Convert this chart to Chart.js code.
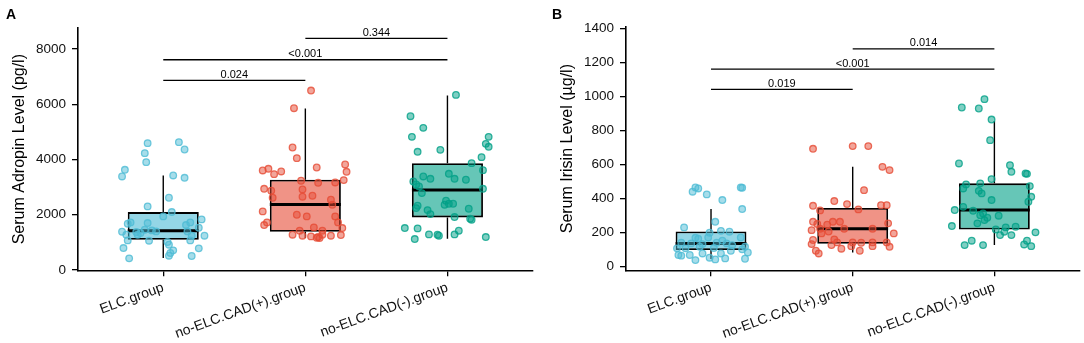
<!DOCTYPE html>
<html><head><meta charset="utf-8">
<script src="https://cdn.jsdelivr.net/npm/chart.js@4.4.1/dist/chart.umd.min.js"></script>
<style>
html,body{margin:0;padding:0;background:#fff;}
#wrap{position:relative;width:1084px;height:343px;overflow:hidden;background:#fff;}
.panel{position:absolute;top:0;height:343px;}
#pa{left:0;width:540px;}
#pb{left:540px;width:544px;}
.tag{position:absolute;font:bold 14px "Liberation Sans",Arial,sans-serif;line-height:14px;color:#000;}
</style></head><body>
<div id="wrap">
  <div class="panel" id="pa"><canvas id="ca"></canvas></div>
  <div class="panel" id="pb"><canvas id="cb"></canvas></div>
  <div class="tag" style="left:6px;top:7px">A</div>
  <div class="tag" style="left:552px;top:7px">B</div>
</div>
<script>
// ---------------- data ----------------
const groups = ['ELC.group', 'no-ELC.CAD(+).group', 'no-ELC.CAD(-).group'];
const adropinTicks = [0, 2000, 4000, 6000, 8000];
const irisinTicks = [0, 200, 400, 600, 800, 1000, 1200, 1400];

// box stats: [lower whisker, Q1, median, Q3, upper whisker]
const adropinBoxes = [[430, 1096, 1422, 2096, 3422], [1160, 1386, 2374, 3266, 5844], [1133, 1904, 2892, 3868, 6314]];
const irisinBoxes = [[45, 98, 137, 207, 339], [84, 135, 223, 345, 587], [127, 219, 333, 490, 856]];

// jittered observations: [horizontal jitter (category units), value]
const adropinELC = [[-0.11,4591],[0.11,4627],[0.15,4362],[-0.13,4230],[-0.12,3904],[-0.27,3627],[-0.29,3386],[0.07,3422],[0.15,3338],[0.04,2615],[-0.11,2302],[0.06,2097],[0.00,1940],[0.27,1832],[-0.23,1723],[-0.11,1699],[0.19,1723],[0.16,1627],[-0.25,1675],[0.25,1530],[-0.13,1458],[-0.08,1434],[-0.29,1386],[-0.26,1277],[-0.18,1277],[-0.19,1373],[0.17,1398],[0.29,1241],[0.20,1241],[-0.25,1072],[-0.10,1060],[0.03,1012],[0.19,1072],[0.04,916],[-0.28,795],[0.25,783],[0.07,711],[0.05,615],[0.04,518],[0.20,506],[-0.24,422],[-0.05,1398],[-0.16,1338]];
const adropinCADpos = [[0.04,6495],[-0.08,5856],[-0.09,4434],[-0.06,4049],[-0.30,3603],[-0.26,3663],[-0.22,3470],[-0.17,3567],[0.08,3711],[0.28,3820],[0.29,3555],[0.27,3254],[-0.03,3230],[0.09,3157],[0.21,3169],[-0.29,2940],[-0.24,2868],[-0.02,2916],[-0.23,2615],[-0.02,2651],[0.05,2687],[0.18,2543],[0.19,2362],[-0.30,2121],[-0.06,2000],[0.01,1940],[0.21,1940],[0.23,1723],[-0.29,1627],[-0.27,1723],[0.06,1542],[0.26,1518],[-0.04,1422],[0.12,1422],[-0.09,1277],[-0.02,1241],[0.04,1217],[0.09,1193],[0.12,1277],[0.18,1241],[0.25,1265],[0.10,1157],[0.08,1169]];
const adropinCADneg = [[0.06,6338],[-0.26,5567],[-0.17,5145],[-0.25,4820],[0.29,4820],[0.27,4567],[0.29,4459],[-0.21,4278],[-0.05,4350],[0.24,4085],[0.17,3868],[0.25,3615],[-0.17,3386],[-0.12,3302],[0.01,3482],[0.05,3302],[0.13,3266],[-0.24,3205],[-0.22,3097],[-0.20,3025],[-0.18,2784],[0.25,2940],[-0.21,2326],[-0.22,2241],[-0.14,2169],[-0.12,2024],[-0.01,2506],[-0.02,2362],[0.01,2398],[0.04,2398],[0.15,2217],[0.05,1916],[0.16,1856],[0.17,1820],[-0.30,1518],[-0.21,1506],[-0.13,1289],[-0.07,1277],[-0.06,1241],[0.05,1289],[0.08,1422],[-0.23,1120],[0.27,1193]];

const irisinELC = [[-0.13,441],[-0.11,466],[-0.09,460],[-0.03,425],[0.08,392],[0.21,466],[0.22,464],[0.22,339],[0.03,264],[-0.19,231],[-0.01,200],[0.07,211],[0.13,206],[-0.11,170],[-0.09,164],[-0.02,172],[0.21,172],[0.08,153],[-0.21,141],[-0.14,137],[-0.06,133],[0.04,141],[0.11,137],[0.15,127],[0.24,117],[-0.24,108],[-0.18,108],[-0.08,117],[0.02,110],[0.14,94],[0.22,102],[0.26,84],[-0.23,69],[-0.15,69],[-0.21,65],[-0.06,78],[0.07,78],[-0.01,53],[0.10,49],[-0.11,39],[0.03,43],[0.24,47]];
const irisinCADpos = [[-0.28,693],[0.00,709],[0.11,709],[0.21,587],[0.26,568],[0.08,450],[-0.13,386],[-0.28,358],[-0.23,331],[-0.04,368],[0.04,337],[0.20,362],[0.24,362],[-0.28,264],[-0.25,251],[-0.14,264],[-0.09,264],[-0.18,247],[-0.23,223],[-0.06,223],[0.14,223],[0.25,255],[-0.29,215],[-0.22,196],[-0.17,207],[0.29,196],[-0.28,157],[-0.13,161],[-0.11,143],[0.00,143],[0.06,141],[0.14,143],[0.24,143],[-0.29,133],[-0.15,127],[-0.08,106],[0.05,94],[-0.26,94],[-0.24,78],[0.26,117],[0.14,121],[-0.01,121]];
const irisinCADneg = [[-0.07,985],[-0.23,936],[-0.11,930],[-0.02,865],[-0.03,744],[-0.25,607],[0.11,597],[0.12,558],[0.22,548],[0.23,546],[-0.02,515],[-0.20,484],[-0.10,490],[-0.22,460],[-0.11,446],[-0.09,431],[0.25,474],[0.26,411],[0.24,382],[-0.02,392],[-0.22,352],[-0.28,333],[-0.15,329],[-0.08,313],[-0.30,239],[-0.10,303],[-0.05,288],[0.03,300],[-0.12,255],[-0.07,274],[0.08,231],[0.01,219],[0.15,235],[0.29,202],[0.04,186],[0.12,186],[0.07,206],[-0.16,153],[-0.21,127],[-0.08,127],[0.23,153],[0.21,131],[0.26,121]];

// significance brackets: group index from/to (1-based), height, p-value text
const adropinPvals = [{from:1,to:2,y:6861,label:'0.024'},{from:1,to:3,y:7611,label:'<0.001'},{from:2,to:3,y:8383,label:'0.344'}];
const irisinPvals = [{from:1,to:2,y:1042,label:'0.019'},{from:1,to:3,y:1161,label:'<0.001'},{from:2,to:3,y:1280,label:'0.014'}];

// ---------------- drawing ----------------
const FONT = '"Liberation Sans", Arial, sans-serif';
const groupColors = [[77,187,213],[230,75,53],[0,160,135]];
const rgba = (c, a) => `rgba(${c[0]},${c[1]},${c[2]},${a})`;

const pvalLabels = {
  id: 'pvalLabels',
  afterDatasetsDraw(chart, args, opts) {
    const {ctx} = chart; const x = chart.scales.x, y = chart.scales.y;
    ctx.save();
    ctx.font = '11px ' + FONT; ctx.fillStyle = '#000';
    ctx.textAlign = 'center'; ctx.textBaseline = 'alphabetic';
    (opts.items || []).forEach(b => {
      ctx.fillText(b.label, x.getPixelForValue((b.from + b.to) / 2), y.getPixelForValue(b.y) - 2.5);
    });
    ctx.restore();
  }
};

function buildPanel(canvasId, cfg) {
  const datasets = [];
  cfg.points.forEach((pts, i) => {
    datasets.push({
      type: 'scatter', order: 0,
      data: pts.map(p => ({x: i + 1 + p[0], y: p[1]})),
      backgroundColor: rgba(groupColors[i], 0.5),
      borderColor: rgba(groupColors[i], 0.8),
      borderWidth: 1.3, pointRadius: 3.3, pointHoverRadius: 3.3
    });
  });
  const med = [], whisk = [];
  cfg.boxes.forEach((b, i) => {
    med.push({x: i + 0.75, y: b[2]}, {x: i + 1.25, y: b[2]}, {x: i + 1, y: null});
    whisk.push({x: i + 1, y: b[0]}, {x: i + 1, y: b[1]}, {x: i + 1, y: null},
               {x: i + 1, y: b[3]}, {x: i + 1, y: b[4]}, {x: i + 1, y: null});
  });
  datasets.push({type: 'line', order: 1, data: med, borderColor: '#000', borderWidth: 3, pointRadius: 0, spanGaps: false, borderCapStyle: 'butt'});
  datasets.push({type: 'line', order: 2, data: whisk, borderColor: '#000', borderWidth: 1.4, pointRadius: 0, spanGaps: false, borderCapStyle: 'butt'});
  datasets.push({
    type: 'bar', order: 3,
    data: cfg.boxes.map((b, i) => ({x: i + 1, y: [b[1], b[3]]})),
    backgroundColor: groupColors.map(c => rgba(c, 0.6)),
    borderColor: '#000', borderWidth: 1.8, borderSkipped: false,
    barPercentage: 0.5, categoryPercentage: 1
  });
  const br = [];
  cfg.pvals.forEach(p => { br.push({x: p.from, y: p.y}, {x: p.to, y: p.y}, {x: p.to, y: null}); });
  datasets.push({type: 'line', order: 1, data: br, borderColor: '#000', borderWidth: 1.3, pointRadius: 0, spanGaps: false, borderCapStyle: 'butt'});

  return new Chart(document.getElementById(canvasId), {
    type: 'scatter',
    data: {datasets},
    plugins: [pvalLabels],
    options: {
      responsive: true, maintainAspectRatio: false, animation: false,
      events: [],
      layout: {padding: cfg.padding},
      plugins: {legend: {display: false}, tooltip: {enabled: false}, pvalLabels: {items: cfg.pvals}},
      scales: {
        x: {
          type: 'linear', min: 0.4, max: 3.6, offset: false,
          afterBuildTicks: s => { s.ticks = groups.map((g, i) => ({value: i + 1})); },
          afterFit: s => { s.height = cfg.xHeight; },
          ticks: {callback: (v, i) => groups[i], autoSkip: false, maxRotation: 20, minRotation: 20, padding: 3,
                  color: '#111', font: {family: FONT, size: 14}},
          grid: {offset: false, drawOnChartArea: false, drawTicks: true, tickLength: 6, color: '#000', lineWidth: 1.3},
          border: {display: true, color: '#000', width: 1.6}
        },
        y: {
          type: 'linear', min: cfg.yMin, max: cfg.yMax,
          afterBuildTicks: s => { s.ticks = cfg.yTicks.map(v => ({value: v})); },
          afterFit: s => { s.width = cfg.yWidth; },
          ticks: {callback: v => String(v), padding: 6, color: '#111', font: {family: FONT, size: 13.5}},
          grid: {offset: false, drawOnChartArea: false, drawTicks: true, tickLength: 6, color: '#000', lineWidth: 1.3},
          border: {display: true, color: '#000', width: 1.6},
          title: {display: true, text: cfg.yTitle, color: '#000', font: {family: FONT, size: 16}, padding: {top: cfg.titlePad, bottom: 0}}
        }
      }
    }
  });
}

buildPanel('ca', {
  points: [adropinELC, adropinCADpos, adropinCADneg], boxes: adropinBoxes, pvals: adropinPvals,
  yTicks: adropinTicks, yMin: -11, yMax: 8760,
  yTitle: 'Serum Adropin Level (pg/l)', titlePad: 9.5,
  padding: {left: 0, right: 7.3, top: 28, bottom: 0}, yWidth: 78, xHeight: 72.7
});
buildPanel('cb', {
  points: [irisinELC, irisinCADpos, irisinCADneg], boxes: irisinBoxes, pvals: irisinPvals,
  yTicks: irisinTicks, yMin: -21, yMax: 1409,
  yTitle: 'Serum Irisin Level (µg/l)', titlePad: 18,
  padding: {left: 0, right: 3.6, top: 27, bottom: 0}, yWidth: 86, xHeight: 72.7
});
</script>
</body></html>
